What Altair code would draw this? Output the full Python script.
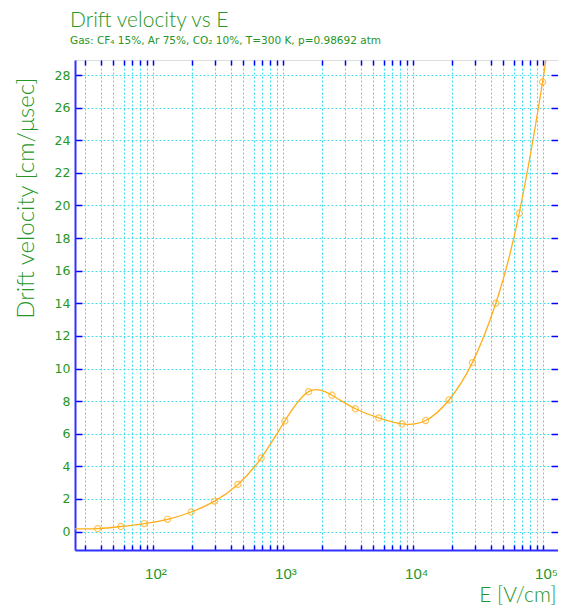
import altair as alt
import pandas as pd

# ---- data ----
E_points = [37.8, 57.0, 86.1, 130.3, 198.2, 300, 453, 684, 1040, 1585,
            2399, 3631, 5495, 8279, 12589, 19055, 28840, 43652, 66069, 100000]
v_points = [0.18, 0.31, 0.49, 0.75, 1.20, 1.87, 2.89, 4.51, 6.78, 8.58,
            8.36, 7.53, 6.97, 6.60, 6.81, 8.07, 10.36, 14.00, 19.52, 27.57]
# the fitted curve runs on past the outer markers to the frame edges
E_curve_ends = [25.3, 112200]
v_curve_ends = [0.17, 30.57]

x_tick_values = [30, 40, 50, 60, 70, 80, 90,
                 100, 200, 300, 400, 500, 600, 700, 800, 900,
                 1000, 2000, 3000, 4000, 5000, 6000, 7000, 8000, 9000,
                 10000, 20000, 30000, 40000, 50000, 60000, 70000, 80000, 90000,
                 100000]
y_tick_values = [0, 2, 4, 6, 8, 10, 12, 14, 16, 18, 20, 22, 24, 26, 28]
x_domain = [25.3, 131400]
y_domain = [-1.13, 28.92]

title_text = "Drift velocity vs E"
subtitle_text = "Gas: CF\u2084 15%, Ar 75%, CO\u2082 10%, T=300 K, p=0.98692 atm"
x_title = "E [V/cm]"
y_title = "Drift velocity [cm/\u03bcsec]"

GREEN = "#269626"
ORANGE = "#ffae1a"
BLUE = "#0000ff"
FRAME = "#3030ff"
GRID = "#3ee0f0"

pts_df = pd.DataFrame({"E": E_points, "v": v_points})
curve_df = pd.DataFrame({"E": E_points + E_curve_ends, "v": v_points + v_curve_ends}).sort_values("E")

xscale = alt.Scale(type="log", domain=x_domain, nice=False)
yscale = alt.Scale(domain=y_domain, nice=False, zero=False)

label_expr = ("datum.value == 100 ? '10\u00b2' : datum.value == 1000 ? '10\u00b3' : "
              "datum.value == 10000 ? '10\u2074' : datum.value == 100000 ? '10\u2075' : ''")

x_axis_main = alt.Axis(
    orient="bottom", values=x_tick_values, labelExpr=label_expr,
    labelFont="Liberation Sans", labelFontSize=15, labelColor=GREEN,
    labelAlign="left", labelOffset=-8, labelBaseline="alphabetic",
    tickSize=alt.ExprRef("-5"), labelPadding=33, tickColor=BLUE, tickWidth=1.5,
    grid=True, gridColor=GRID, gridDash=[2, 2], gridWidth=1,
    domain=True, domainColor=FRAME, domainWidth=2,
    labelFlush=False, labelOverlap=False,
    title=x_title, titleFont="Lato", titleFontWeight=300, titleFontSize=21,
    titleColor=GREEN, titleX=481, titleY=51, titleAlign="right",
    titleBaseline="alphabetic", titleAnchor="end",
)
y_axis_main = alt.Axis(
    orient="left", values=y_tick_values,
    labelFont="DejaVu Sans", labelFontSize=12.5, labelColor=GREEN,
    tickSize=alt.ExprRef("-7"), labelPadding=12, tickColor=BLUE, tickWidth=1.5,
    grid=True, gridColor=GRID, gridDash=[2, 2], gridWidth=1,
    domain=True, domainColor=FRAME, domainWidth=2, labelFlush=False,
    title=y_title, titleFont="Lato", titleFontWeight=300, titleFontSize=24,
    titleColor=GREEN, titleX=-42, titleY=17, titleAlign="right",
    titleBaseline="alphabetic",
)
x_axis_top = alt.Axis(
    orient="top", values=x_tick_values, labels=False, grid=False, domain=False,
    tickSize=alt.ExprRef("-5"), tickColor=BLUE, tickWidth=1.5, title=None,
)
y_axis_right = alt.Axis(
    orient="right", values=y_tick_values, labels=False, grid=False, domain=False,
    tickSize=alt.ExprRef("-7"), tickColor=BLUE, tickWidth=1.5, title=None,
)

line = alt.Chart(curve_df).mark_line(
    color=ORANGE, strokeWidth=1.3, interpolate="natural", clip=True
).encode(
    x=alt.X("E:Q", scale=xscale, axis=x_axis_main),
    y=alt.Y("v:Q", scale=yscale, axis=y_axis_main),
)

points = alt.Chart(pts_df).mark_point(
    shape="circle", size=38, filled=False, color=ORANGE, strokeWidth=1.2, clip=True
).encode(
    x=alt.X("E:Q", scale=xscale, axis=x_axis_top),
    y=alt.Y("v:Q", scale=yscale, axis=y_axis_right),
)

chart = alt.layer(line, points).resolve_axis(
    x="independent", y="independent"
).properties(
    width=483, height=490,
    autosize=alt.AutoSizeParams(type="none"),
    padding={"left": 67, "top": 52, "right": 0, "bottom": 55},
    title=alt.TitleParams(
        text=title_text, subtitle=subtitle_text, anchor="start", frame="group",
        dx=-5, offset=13, font="Lato", fontWeight=300, fontSize=21, color=GREEN,
        subtitleFont="DejaVu Sans", subtitleFontSize=10.5, subtitleColor=GREEN,
        subtitlePadding=5,
    ),
).configure_view(
    stroke=FRAME, strokeWidth=1.6
).configure(background="white")

chart.save("out.html", embed_options={"renderer": "svg", "actions": False})
